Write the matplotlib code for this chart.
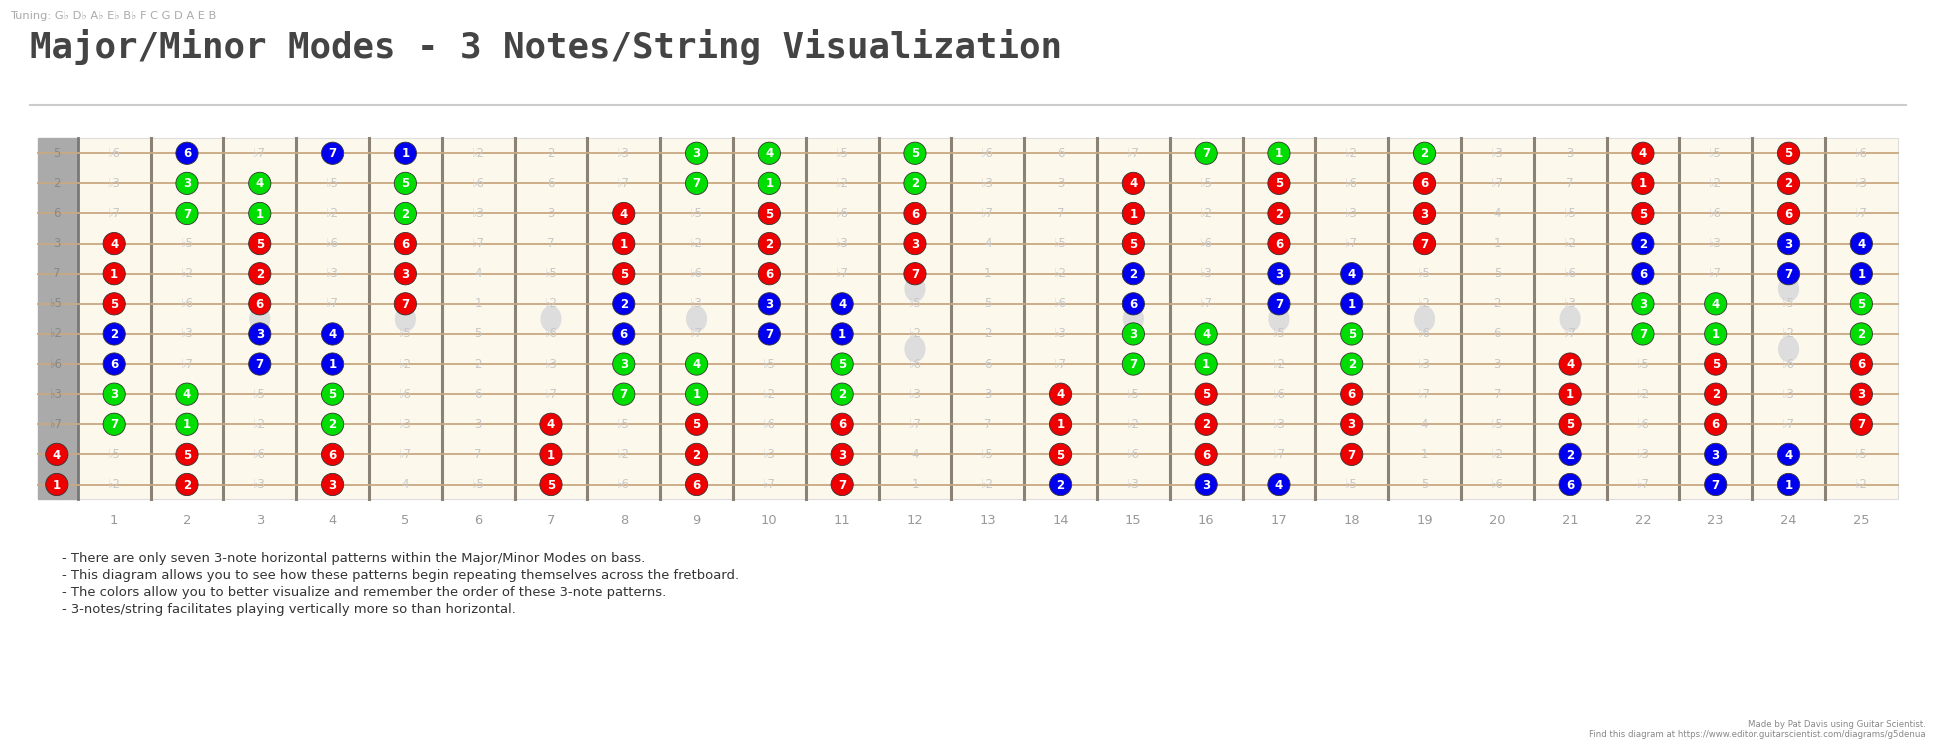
import matplotlib
matplotlib.use("Agg")
import matplotlib.pyplot as plt
from matplotlib.patches import Rectangle, Circle, Ellipse

# ---------------- data ----------------
string_labels = ["5", "2", "6", "3", "7", "♭5", "♭2", "♭6", "♭3", "♭7", "4", "1"]
string_offsets = [7, 2, 9, 4, 11, 6, 1, 8, 3, 10, 5, 0]  # semitones from root
interval_names = ["1", "♭2", "2", "♭3", "3", "4", "♭5", "5", "♭6", "6", "♭7", "7"]
degree_of = {0: "1", 2: "2", 4: "3", 5: "4", 7: "5", 9: "6", 11: "7"}
fret_numbers = list(range(1, 26))
inlay_single = [3, 5, 7, 9, 15, 17, 19, 21]
inlay_double = [12, 24]

R, G, B = "r", "g", "b"
notes = [
    {2: B, 4: B, 5: B, 9: G, 10: G, 12: G, 16: G, 17: G, 19: G, 22: R, 24: R},
    {2: G, 3: G, 5: G, 9: G, 10: G, 12: G, 15: R, 17: R, 19: R, 22: R, 24: R},
    {2: G, 3: G, 5: G, 8: R, 10: R, 12: R, 15: R, 17: R, 19: R, 22: R, 24: R},
    {1: R, 3: R, 5: R, 8: R, 10: R, 12: R, 15: R, 17: R, 19: R, 22: B, 24: B, 25: B},
    {1: R, 3: R, 5: R, 8: R, 10: R, 12: R, 15: B, 17: B, 18: B, 22: B, 24: B, 25: B},
    {1: R, 3: R, 5: R, 8: B, 10: B, 11: B, 15: B, 17: B, 18: B, 22: G, 23: G, 25: G},
    {1: B, 3: B, 4: B, 8: B, 10: B, 11: B, 15: G, 16: G, 18: G, 22: G, 23: G, 25: G},
    {1: B, 3: B, 4: B, 8: G, 9: G, 11: G, 15: G, 16: G, 18: G, 21: R, 23: R, 25: R},
    {1: G, 2: G, 4: G, 8: G, 9: G, 11: G, 14: R, 16: R, 18: R, 21: R, 23: R, 25: R},
    {1: G, 2: G, 4: G, 7: R, 9: R, 11: R, 14: R, 16: R, 18: R, 21: R, 23: R, 25: R},
    {0: R, 2: R, 4: R, 7: R, 9: R, 11: R, 14: R, 16: R, 18: R, 21: B, 23: B, 24: B},
    {0: R, 2: R, 4: R, 7: R, 9: R, 11: R, 14: B, 16: B, 17: B, 21: B, 23: B, 24: B},
]
colors = {R: "#ee0000", G: "#00dd00", B: "#0000ee"}
notes_text = [
    "- There are only seven 3-note horizontal patterns within the Major/Minor Modes on bass.",
    "- This diagram allows you to see how these patterns begin repeating themselves across the fretboard.",
    "- The colors allow you to better visualize and remember the order of these 3-note patterns.",
    "- 3-notes/string facilitates playing vertically more so than horizontal.",
]

# ---------------- layout (reference px coords, 1568x606) ----------------
W, H = 1568, 606
S = 1936 / W
fig = plt.figure(figsize=(19.36, 7.49), dpi=100)
ax = fig.add_axes([0, 0, 1, 1])
ax.set_xlim(0, W); ax.set_ylim(H, 0); ax.axis("off")
pt = S * 0.72

nut_l, nut_r, board_r = 31, 63, 1537
top, bot = 112, 404
fw = (board_r - nut_r) / 25
y0, dy = 124, (392 - 124) / 11
def fx(f): return 46 if f == 0 else nut_r + (f - 0.5) * fw
def sy(i): return y0 + i * dy

ax.add_patch(Rectangle((nut_l, top), nut_r - nut_l, bot - top, color="#aaaaaa", zorder=1))
ax.add_patch(Rectangle((nut_r, top), board_r - nut_r, bot - top, facecolor="#fdf8ec",
                       edgecolor="#dddddd", lw=0.8, zorder=1))
for k in range(1, 25):
    x = nut_r + k * fw
    ax.plot([x, x], [top, bot], color="#8a8275", lw=2.2, zorder=2)
ax.plot([nut_r, nut_r], [top, bot], color="#777777", lw=2, zorder=2)
for i in range(12):
    ax.plot([nut_l, board_r], [sy(i), sy(i)], color="#c8a882", lw=1.3, zorder=2)

mid = (sy(5) + sy(6)) / 2
for f in inlay_single:
    ax.add_patch(Ellipse((fx(f), mid), 16, 20, color="#dddddd", zorder=2.5))
for f in inlay_double:
    for yy in [(sy(4) + sy(5)) / 2, (sy(6) + sy(7)) / 2]:
        ax.add_patch(Ellipse((fx(f), yy), 16, 20, color="#dddddd", zorder=2.5))

for i in range(12):
    ax.text(46, sy(i), string_labels[i], ha="center", va="center", fontsize=9.5 * pt,
            color="#888888", zorder=4)
    for f in range(0, 26):
        semi = (string_offsets[i] + f) % 12
        if f in notes[i]:
            ax.add_patch(Circle((fx(f), sy(i)), 9, facecolor=colors[notes[i][f]],
                                edgecolor="#333333", lw=0.6, zorder=5))
            ax.text(fx(f), sy(i) + 0.5, degree_of[semi], ha="center", va="center",
                    fontsize=9.5 * pt, color="white", fontweight="bold", zorder=6)
        elif f > 0:
            ax.text(fx(f), sy(i), interval_names[semi], ha="center", va="center",
                    fontsize=9.5 * pt, color="#c8c8c8", zorder=4)

for f in fret_numbers:
    ax.text(fx(f), 421, str(f), ha="center", va="center", fontsize=10.5 * pt, color="#999999")

ax.text(8, 13, "Tuning: G♭ D♭ A♭ E♭ B♭ F C G D A E B", fontsize=9.2 * pt, color="#aaaaaa",
        va="center", ha="left")
ax.text(24, 38, "Major/Minor Modes - 3 Notes/String Visualization", fontsize=29 * pt,
        family="DejaVu Sans Mono", fontweight="bold", color="#444444", va="center", ha="left")
ax.plot([24, 1544], [85, 85], color="#cccccc", lw=1.5)

for k, t in enumerate(notes_text):
    ax.text(50, 452 + k * 13.8, t, fontsize=10.6 * pt, color="#333333", va="center", ha="left")

ax.text(1560, 586, "Made by Pat Davis using Guitar Scientist.", fontsize=7 * pt,
        color="#888888", ha="right", va="center")
ax.text(1560, 594, "Find this diagram at https://www.editor.guitarscientist.com/diagrams/g5denua",
        fontsize=7 * pt, color="#888888", ha="right", va="center")

fig.savefig("out.png", dpi=100)
